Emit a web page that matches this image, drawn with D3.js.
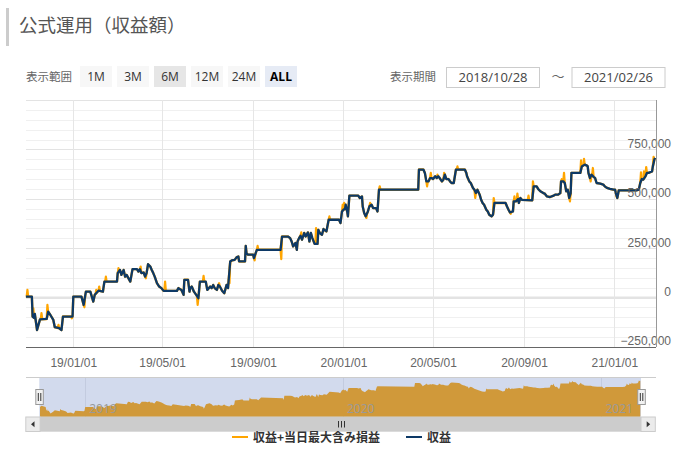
<!DOCTYPE html>
<html><head><meta charset="utf-8">
<script src="https://cdn.jsdelivr.net/npm/d3@7"></script>
<style>
body{margin:0;background:#fff;}
svg{display:block;font-family:"Open Sans","Noto Sans CJK JP",sans-serif;}
</style></head><body>
<svg id="chart" width="689" height="454"></svg>
<script>
// ---------- data ----------
const chartTitle = "公式運用（収益額）";
const rangeLabel = "表示範囲";
const rangeButtons = ["1M","3M","6M","12M","24M","ALL"];
const periodLabel = "表示期間";
const periodStart = "2018/10/28";
const periodEnd = "2021/02/26";
const seriesNames = ["収益+当日最大含み損益","収益"];
const yTickValues = [-250000,0,250000,500000,750000];
const xTickDates = ["2019-01-01","2019-05-01","2019-09-01","2020-01-01","2020-05-01","2020-09-01","2021-01-01"];
const navYearDates = ["2019-01-01","2020-01-01","2021-01-01"];

// 収益 (navy)
const profitDates = [
"2018-10-29","2018-11-06","2018-11-07","2018-11-09","2018-11-10","2018-11-13","2018-11-17","2018-11-26","2018-11-28","2018-12-01",
"2018-12-05","2018-12-07","2018-12-13","2018-12-16","2018-12-18","2018-12-31","2019-01-01","2019-01-12","2019-01-15","2019-01-18",
"2019-01-24","2019-01-28","2019-01-30","2019-02-04","2019-02-10","2019-02-12","2019-03-01","2019-03-02","2019-03-05","2019-03-07",
"2019-03-10","2019-03-12","2019-03-14","2019-03-19","2019-03-22","2019-03-28","2019-03-30","2019-04-01","2019-04-03","2019-04-06",
"2019-04-08","2019-04-10","2019-04-12","2019-04-15","2019-04-17","2019-04-19","2019-04-21","2019-04-24","2019-04-27","2019-04-30",
"2019-05-03","2019-05-21","2019-05-23","2019-05-27","2019-05-30","2019-05-31","2019-06-05","2019-06-07","2019-06-08","2019-06-10",
"2019-06-13","2019-06-17","2019-06-19","2019-06-21","2019-06-29","2019-07-01","2019-07-05","2019-07-07","2019-07-09","2019-07-11",
"2019-07-14","2019-07-16","2019-07-18","2019-07-21","2019-07-24","2019-07-27","2019-07-29","2019-08-01","2019-08-03","2019-08-07",
"2019-08-10","2019-08-12","2019-08-13","2019-08-21","2019-08-22","2019-08-23","2019-08-25","2019-09-01","2019-09-02","2019-09-06",
"2019-10-08","2019-10-10","2019-10-18","2019-10-21","2019-10-23","2019-10-25","2019-10-28","2019-10-30","2019-10-31","2019-11-02",
"2019-11-04","2019-11-06","2019-11-09","2019-11-11","2019-11-14","2019-11-16","2019-11-18","2019-11-20","2019-11-23","2019-11-27",
"2019-11-28","2019-11-30","2019-12-03","2019-12-05","2019-12-07","2019-12-09","2019-12-12","2019-12-26","2019-12-28","2019-12-30",
"2020-01-01","2020-01-03","2020-01-04","2020-01-06","2020-01-07","2020-01-09","2020-01-21","2020-01-23","2020-01-26","2020-01-27",
"2020-01-29","2020-01-31","2020-02-03","2020-02-05","2020-02-08","2020-02-10","2020-02-14","2020-02-16","2020-02-18","2020-04-11",
"2020-04-12","2020-04-18","2020-04-20","2020-04-22","2020-04-25","2020-04-27","2020-04-29","2020-05-01","2020-05-04","2020-05-06",
"2020-05-08","2020-05-10","2020-05-13","2020-05-15","2020-05-17","2020-05-19","2020-05-22","2020-05-24","2020-05-26","2020-05-29",
"2020-06-01","2020-06-13","2020-06-15","2020-06-16","2020-06-19","2020-06-21","2020-06-24","2020-06-26","2020-06-28","2020-06-30",
"2020-07-03","2020-07-05","2020-07-07","2020-07-09","2020-07-12","2020-07-14","2020-07-16","2020-07-19","2020-07-21","2020-07-23",
"2020-08-07","2020-08-09","2020-08-11","2020-08-13","2020-08-17","2020-08-18","2020-08-21","2020-08-24","2020-08-25","2020-08-27",
"2020-08-29","2020-09-12","2020-09-14","2020-09-18","2020-09-20","2020-09-23","2020-09-27","2020-09-29","2020-10-02","2020-10-06",
"2020-10-11","2020-10-13","2020-10-17","2020-10-20","2020-10-21","2020-10-24","2020-10-26","2020-10-28","2020-10-30","2020-11-01",
"2020-11-03","2020-11-04","2020-11-16","2020-11-18","2020-11-20","2020-11-22","2020-11-25","2020-11-26","2020-11-27","2020-11-29",
"2020-12-01","2020-12-04","2020-12-06","2020-12-08","2020-12-13","2020-12-17","2020-12-19","2020-12-22","2020-12-26","2020-12-31",
"2021-01-02","2021-01-03","2021-01-05","2021-01-07","2021-01-31","2021-02-03","2021-02-05","2021-02-07","2021-02-09","2021-02-12",
"2021-02-14","2021-02-16","2021-02-18","2021-02-21","2021-02-22","2021-02-24","2021-02-25"];
const profitValues = [
5000,5000,-96000,-103000,-83000,-164000,-110000,-108000,-71000,-88000,
-113000,-150000,-155000,-164000,-96000,-96000,5000,5000,-37000,30000,
30000,-20000,14000,35000,30000,81000,81000,124000,140000,115000,
140000,106000,115000,81000,144000,144000,132000,144000,124000,127000,
106000,124000,169000,157000,140000,124000,106000,73000,56000,48000,
34000,34000,48000,39000,14000,90000,90000,30000,48000,56000,
30000,9000,-3000,81000,81000,39000,56000,48000,64000,48000,
39000,64000,56000,35000,22000,64000,48000,183000,188000,191000,
205000,208000,183000,183000,262000,225000,217000,217000,200000,242000,
242000,309000,309000,301000,284000,259000,276000,242000,284000,301000,
313000,293000,327000,309000,330000,284000,327000,301000,272000,272000,
343000,327000,318000,347000,340000,335000,394000,394000,377000,436000,
445000,448000,470000,436000,411000,516000,516000,504000,512000,461000,
428000,411000,436000,461000,470000,453000,453000,436000,546000,546000,
648000,648000,631000,588000,588000,605000,605000,600000,614000,605000,
614000,605000,588000,597000,622000,600000,600000,588000,580000,580000,
648000,648000,631000,614000,588000,580000,555000,546000,529000,546000,
521000,495000,479000,470000,445000,436000,419000,411000,419000,479000,
479000,461000,445000,431000,436000,487000,487000,499000,479000,504000,
495000,492000,563000,563000,550000,538000,529000,526000,512000,509000,
516000,521000,521000,529000,588000,588000,580000,538000,546000,504000,
529000,631000,631000,664000,668000,673000,668000,664000,631000,605000,
622000,611000,605000,580000,577000,572000,563000,555000,550000,546000,
546000,529000,504000,543000,543000,546000,580000,600000,597000,614000,
631000,631000,634000,639000,664000,698000,707000];

// 収益+当日最大含み損益 (orange): days where it departs from 収益
const swingDates = [
"2018-10-31","2018-11-08","2018-11-19","2018-11-27","2018-12-12","2018-12-30","2019-01-16","2019-02-01","2019-02-05","2019-02-14",
"2019-03-03","2019-04-02","2019-04-09","2019-05-05","2019-06-18","2019-06-26","2019-07-17","2019-07-31","2019-09-03","2019-09-07",
"2019-10-09","2019-11-05","2019-11-25","2019-12-13","2019-12-31","2020-01-02","2020-02-01","2020-02-06","2020-02-19","2020-04-23",
"2020-04-28","2020-05-07","2020-05-16","2020-06-03","2020-06-27","2020-07-22","2020-08-14","2020-08-19","2020-08-23","2020-09-07",
"2020-09-13","2020-10-22","2020-10-25","2020-11-02","2020-11-17","2020-11-21","2020-11-30","2020-12-03","2021-01-04","2021-02-06",
"2021-02-10","2021-02-13","2021-02-23"];
const swingValues = [
39000,-54000,-79000,-37000,-138000,-105000,-49000,39000,56000,106000,
149000,157000,98000,81000,-37000,110000,73000,73000,188000,262000,
195000,330000,352000,411000,470000,479000,403000,479000,563000,563000,
631000,622000,631000,664000,504000,504000,424000,512000,526000,516000,
588000,600000,631000,487000,695000,702000,588000,656000,512000,634000,
639000,661000,712000];

// ---------- build ----------
const parse = d3.utcParse("%Y-%m-%d");
const profit = profitDates.map((d,i)=>({date:parse(d), value:profitValues[i]}));
const swings = swingDates.map((d,i)=>({date:parse(d), value:swingValues[i]}));
const withSwing = profit.concat(swings).sort((a,b)=>a.date-b.date);

const svg = d3.select("#chart");
const CJK = '"Noto Sans CJK JP","Open Sans",sans-serif';

// title
svg.append("rect").attr("x",6).attr("y",8).attr("width",3).attr("height",38).attr("fill","#cccccc");
svg.append("text").attr("x",19).attr("y",32).attr("font-family",CJK).attr("font-size",18.5)
  .attr("fill","#555").text(chartTitle);

// range selector
svg.append("text").attr("x",26).attr("y",81).attr("font-family",CJK).attr("font-size",11.5)
  .attr("fill","#666").text(rangeLabel);
const btnX = [80,117,154,191,228,265];
rangeButtons.forEach((b,i)=>{
  const fill = b==="ALL" ? "#e6ebf5" : (b==="6M" ? "#e6e6e6" : "#f7f7f7");
  svg.append("rect").attr("x",btnX[i]).attr("y",66).attr("width",32).attr("height",21).attr("fill",fill);
  svg.append("text").attr("x",btnX[i]+16).attr("y",81).attr("text-anchor","middle")
    .attr("font-size",12).attr("fill", b==="ALL"?"#000":"#333").attr("font-weight", b==="ALL"?"bold":"normal").text(b);
});
svg.append("text").attr("x",390).attr("y",80.5).attr("font-family",CJK).attr("font-size",11.5)
  .attr("fill","#666").text(periodLabel);
[[446,periodStart],[571.5,periodEnd]].forEach(([x,t])=>{
  svg.append("rect").attr("x",x+0.5).attr("y",67.5).attr("width",93).attr("height",20)
    .attr("fill","#fff").attr("stroke","#cccccc");
  svg.append("text").attr("x",x+47).attr("y",82).attr("text-anchor","middle").attr("font-size",13)
    .attr("fill","#444").text(t);
});
svg.append("text").attr("x",558).attr("y",81).attr("text-anchor","middle").attr("font-family",CJK)
  .attr("font-size",13).attr("fill","#666").text("～");

// main scales
const x = d3.scaleUtc().domain([parse("2018-10-28"), parse("2021-02-26")]).range([25.2, 655.8]);
const y = d3.scaleLinear().domain([-250000, 1000000]).range([347, 100]);
const left = 26, right = 656;

// grid
const g = svg.append("g");
g.selectAll("line.minor").data(d3.range(-250000, 1000001, 50000)).join("line")
  .attr("x1",left).attr("x2",right).attr("y1",d=>Math.round(y(d))+0.5).attr("y2",d=>Math.round(y(d))+0.5)
  .attr("stroke","#f0f0f0");
g.selectAll("line.major").data(d3.range(-250000, 1000001, 250000)).join("line")
  .attr("x1",left).attr("x2",right).attr("y1",d=>Math.round(y(d))+0.5).attr("y2",d=>Math.round(y(d))+0.5)
  .attr("stroke","#e3e3e3");
g.append("line").attr("x1",left).attr("x2",right).attr("y1",y(0)).attr("y2",y(0))
  .attr("stroke","#e3e3e3").attr("stroke-width",2);
g.selectAll("line.vg").data(xTickDates.map(parse)).join("line")
  .attr("x1",d=>Math.round(x(d))+0.5).attr("x2",d=>Math.round(x(d))+0.5).attr("y1",100).attr("y2",347)
  .attr("stroke","#e6e6e6");

// lines
const line = d3.line().x(d=>x(d.date)).y(d=>y(d.value));
// level of the 収益 line at a given date on screen (for joining each swing back onto it)
const bis = d3.bisector(d=>d.date).left;
function levelAt(t){
  const i = bis(profit, t);
  if (i<=0) return profit[0].value;
  if (i>=profit.length) return profit[profit.length-1].value;
  const a = profit[i-1], b = profit[i];
  return a.value + (b.value-a.value)*((t-a.date)/(b.date-a.date));
}
const DAY = 86400000;
// orange: same course as 収益, plus one-day swings
svg.append("path").datum(profit).attr("d",line).attr("fill","none")
  .attr("stroke","#ffa500").attr("stroke-width",2.4).attr("stroke-linejoin","round");
svg.append("g").selectAll("path").data(swings).join("path")
  .attr("d",s=>{
    const t0 = new Date(+s.date-DAY), t1 = new Date(+s.date+DAY);
    return line([{date:t0,value:levelAt(t0)}, s, {date:t1,value:levelAt(t1)}]);
  })
  .attr("fill","none").attr("stroke","#ffa500").attr("stroke-width",2.2).attr("stroke-linejoin","round");
svg.append("path").datum(profit).attr("d",line).attr("fill","none")
  .attr("stroke","#0d3966").attr("stroke-width",2.3).attr("stroke-linejoin","round");

// axes
const xAxis = svg.append("g").attr("transform","translate(0,347)")
  .call(d3.axisBottom(x).tickValues(xTickDates.map(parse)).tickFormat(d3.utcFormat("%y/%m/%d")).tickSize(0).tickPadding(0));
xAxis.select(".domain").remove();
xAxis.selectAll("text").attr("y",11).attr("font-size",12).attr("fill","#666").attr("font-family",null);
svg.append("line").attr("x1",left).attr("x2",right).attr("y1",347.5).attr("y2",347.5).attr("stroke","#666");

const yAxis = svg.append("g").attr("transform",`translate(${right},0)`)
  .call(d3.axisRight(y).tickValues(yTickValues).tickFormat(d3.format(",")).tickSize(0));
yAxis.select(".domain").remove();
yAxis.selectAll("text").attr("x",15).attr("dy",0).attr("y",-2.2).attr("text-anchor","end")
  .attr("font-size",12).attr("fill","#666").attr("font-family",null);
svg.append("line").attr("x1",right+0.5).attr("x2",right+0.5).attr("y1",100).attr("y2",347).attr("stroke","#999");

// navigator
const nx = d3.scaleUtc().domain(x.domain()).range([39.3, 641]);
const ext = d3.extent(withSwing, d=>d.value), span = ext[1]-ext[0];
const ny = d3.scaleLinear().domain([ext[0]-0.1*span, ext[1]+0.1*span]).range([416.7, 377.3]);
svg.append("rect").attr("x",39.3).attr("y",377.3).attr("width",641-39.3).attr("height",416.7-377.3).attr("fill","#d2daed");
svg.selectAll("line.ng").data(navYearDates.map(parse)).join("line")
  .attr("x1",d=>Math.round(nx(d))+0.5).attr("x2",d=>Math.round(nx(d))+0.5).attr("y1",377.3).attr("y2",416.7)
  .attr("stroke","#c3cbdf");
const area = d3.area().x(d=>nx(d.date)).y0(416.7).y1(d=>ny(d.value));
svg.append("path").datum(withSwing).attr("d",area).attr("fill","#d0993a");
svg.selectAll("text.ny").data(navYearDates.map(parse)).join("text")
  .attr("x",d=>nx(d)+4).attr("y",413).attr("font-size",12).attr("fill","#999")
  .text(d=>d3.utcFormat("%Y")(d));
svg.append("line").attr("x1",left).attr("x2",right).attr("y1",377.5).attr("y2",377.5).attr("stroke","#cccccc");
// handles
[35.3,637.3].forEach(hx=>{
  svg.append("rect").attr("x",hx+0.5).attr("y",389.5).attr("width",7.5).attr("height",15)
    .attr("fill","#f2f2f2").attr("stroke","#999");
  svg.append("line").attr("x1",hx+3).attr("x2",hx+3).attr("y1",393).attr("y2",401).attr("stroke","#333");
  svg.append("line").attr("x1",hx+5.5).attr("x2",hx+5.5).attr("y1",393).attr("y2",401).attr("stroke","#333");
});
// scrollbar
svg.append("rect").attr("x",39.3).attr("y",416.7).attr("width",641-39.3).attr("height",15).attr("fill","#cccccc");
[[25.8,"l"],[641,"r"]].forEach(([bx,dir])=>{
  svg.append("rect").attr("x",bx).attr("y",417).attr("width",14.3).attr("height",14.5)
    .attr("fill","#ebebeb").attr("stroke","#cccccc");
  const cx = bx+7.2, cy = 424.3;
  const p = dir==="l" ? `M${cx+1.5},${cy-3}L${cx-2},${cy}L${cx+1.5},${cy+3}Z` : `M${cx-1.5},${cy-3}L${cx+2},${cy}L${cx-1.5},${cy+3}Z`;
  svg.append("path").attr("d",p).attr("fill","#333");
});
[338.5,341.5,344.5].forEach(rx=>{
  svg.append("line").attr("x1",rx).attr("x2",rx).attr("y1",421).attr("y2",427.5).attr("stroke","#333");
});

// legend
const lg = svg.append("g").attr("font-family",CJK).attr("font-size",12).attr("font-weight","bold").attr("fill","#333");
lg.append("line").attr("x1",232).attr("x2",248).attr("y1",437).attr("y2",437).attr("stroke","#ffa500").attr("stroke-width",2);
lg.append("text").attr("x",253).attr("y",441.5).text(seriesNames[0]);
lg.append("line").attr("x1",406).attr("x2",422).attr("y1",437).attr("y2",437).attr("stroke","#0d3966").attr("stroke-width",2);
lg.append("text").attr("x",427).attr("y",441.5).text(seriesNames[1]);
</script>
</body></html>
